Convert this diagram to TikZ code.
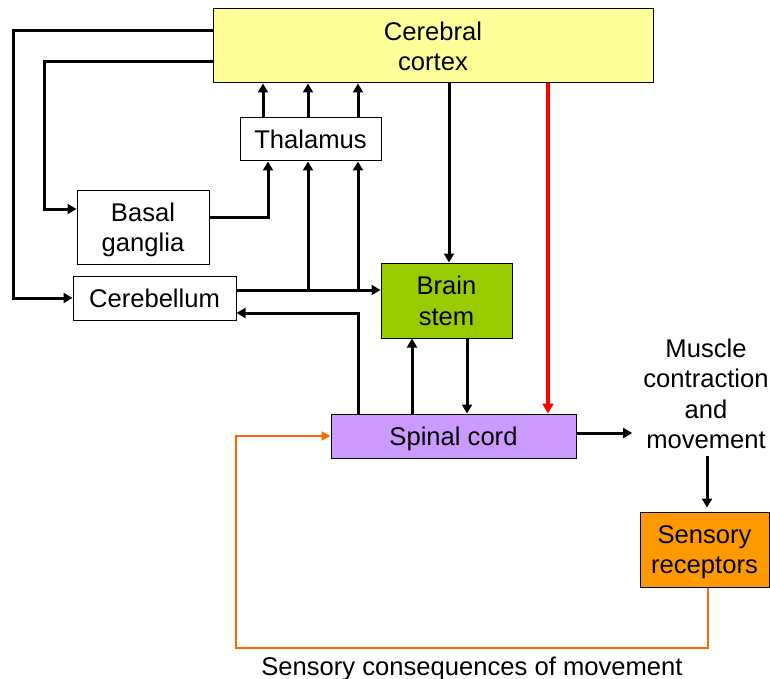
\documentclass[tikz,border=0pt]{standalone}
\usepackage{fontspec}
\setmainfont{Liberation Sans}
\usetikzlibrary{arrows.meta,calc}
\definecolor{cortexc}{HTML}{FFFF99}
\definecolor{stemc}{HTML}{99CC00}
\definecolor{spinalc}{HTML}{CC99FF}
\definecolor{sensc}{HTML}{FF9900}
\definecolor{orangec}{HTML}{FF6600}
\tikzset{
  box/.style={draw=black, line width=1pt, inner sep=0pt, align=center, text depth=0pt},
  arr/.style={line width=3pt, -{Triangle[length=9pt,width=10pt]}},
  redarr/.style={line width=3.5pt, red, -{Triangle[length=10pt,width=11pt]}},
  oarr/.style={line width=2pt, orangec, -{Triangle[length=9pt,width=9pt]}},
  txt/.style={inner sep=0pt, align=center}
}
\begin{document}
\begin{tikzpicture}[x=1pt,y=-1pt, font=\fontsize{25.6}{30.5}\selectfont]
\useasboundingbox (0,0) rectangle (770,679);
\fill[white] (0,0) rectangle (770,679);

\node[box, fill=cortexc, minimum width=440pt, minimum height=74pt] (cortex) at (433,46) {Cerebral\\cortex};
\node[box, fill=white, minimum width=141pt, minimum height=43pt] (thal) at (310.5,139.5) {Thalamus};
\node[box, fill=white, minimum width=132pt, minimum height=74pt] (basal) at (143,227) {Basal\\ganglia};
\node[box, fill=white, minimum width=163pt, minimum height=44pt] (cereb) at (154.5,298) {Cerebellum};
\node[box, fill=stemc, minimum width=131pt, minimum height=75pt] (bstem) at (446.5,300.5) {Brain\\stem};
\node[box, fill=spinalc, minimum width=245pt, minimum height=44pt] (spinal) at (453.5,436) {Spinal cord};
\node[box, fill=sensc, minimum width=129pt, minimum height=75pt] (sens) at (704.5,549.5) {Sensory\\receptors};
\node[txt, inner xsep=11pt, inner ysep=7pt] (muscle) at (706,394) {Muscle\\contraction\\and\\movement};
\node[txt, anchor=base] (cons) at (472,675) {Sensory consequences of movement};

\coordinate (j1) at (308,290);
\coordinate (j2) at (358,290);
\coordinate (ob) at (236,648);

% cortex to cerebellum and basal ganglia
\draw[arr] ([yshift=15pt]cortex.west) -- ++(-199,0) |- (cereb.west);
\draw[arr] ([yshift=-16pt]cortex.west) -- ++(-168,0) |- ([yshift=18pt]basal.west);

% thalamus to cortex
\draw[arr] ([xshift=-47.5pt]thal.north) -- ([xshift=-47.5pt]thal.north |- cortex.south);
\draw[arr] ([xshift=-2.5pt]thal.north) -- ([xshift=-2.5pt]thal.north |- cortex.south);
\draw[arr] ([xshift=47.5pt]thal.north) -- ([xshift=47.5pt]thal.north |- cortex.south);

% basal ganglia to thalamus
\draw[arr] ([yshift=10pt]basal.east) -| ([xshift=-42.5pt]thal.south);

% cerebellum to brain stem and thalamus
\draw[arr] ([yshift=8pt]cereb.east) -- ([yshift=8pt]cereb.east -| bstem.west);
\draw[arr] (j1) -- (j1 |- thal.south);
\draw[arr] (j2) -- (j2 |- thal.south);

% spinal cord to cerebellum
\draw[arr] ([xshift=-95.5pt]spinal.north) |- ([yshift=-15pt]cereb.east);

% cortex to brain stem
\draw[arr] ([xshift=2.5pt]bstem.north |- cortex.south) -- ([xshift=2.5pt]bstem.north);

% brain stem <-> spinal cord
\draw[arr] ([xshift=20.5pt]bstem.south) -- ([xshift=20.5pt]bstem.south |- spinal.north);
\draw[arr] ([xshift=-34.5pt]bstem.south |- spinal.north) -- ([xshift=-34.5pt]bstem.south);

% cortex to spinal cord (red)
\draw[redarr] ([xshift=115pt]cortex.south) -- ([xshift=115pt]cortex.south |- spinal.north);

% spinal cord to muscle
\draw[arr] ([yshift=3pt]spinal.east) -- ([yshift=3pt]spinal.east -| muscle.west);

% muscle to sensory receptors
\draw[arr, shorten >=4pt] ([xshift=1pt]muscle.south) -- ([xshift=1pt]muscle.south |- sens.north);

% sensory feedback (orange)
\draw[oarr] ([xshift=3pt]sens.south) |- (ob) |- (spinal.west);
\end{tikzpicture}
\end{document}
